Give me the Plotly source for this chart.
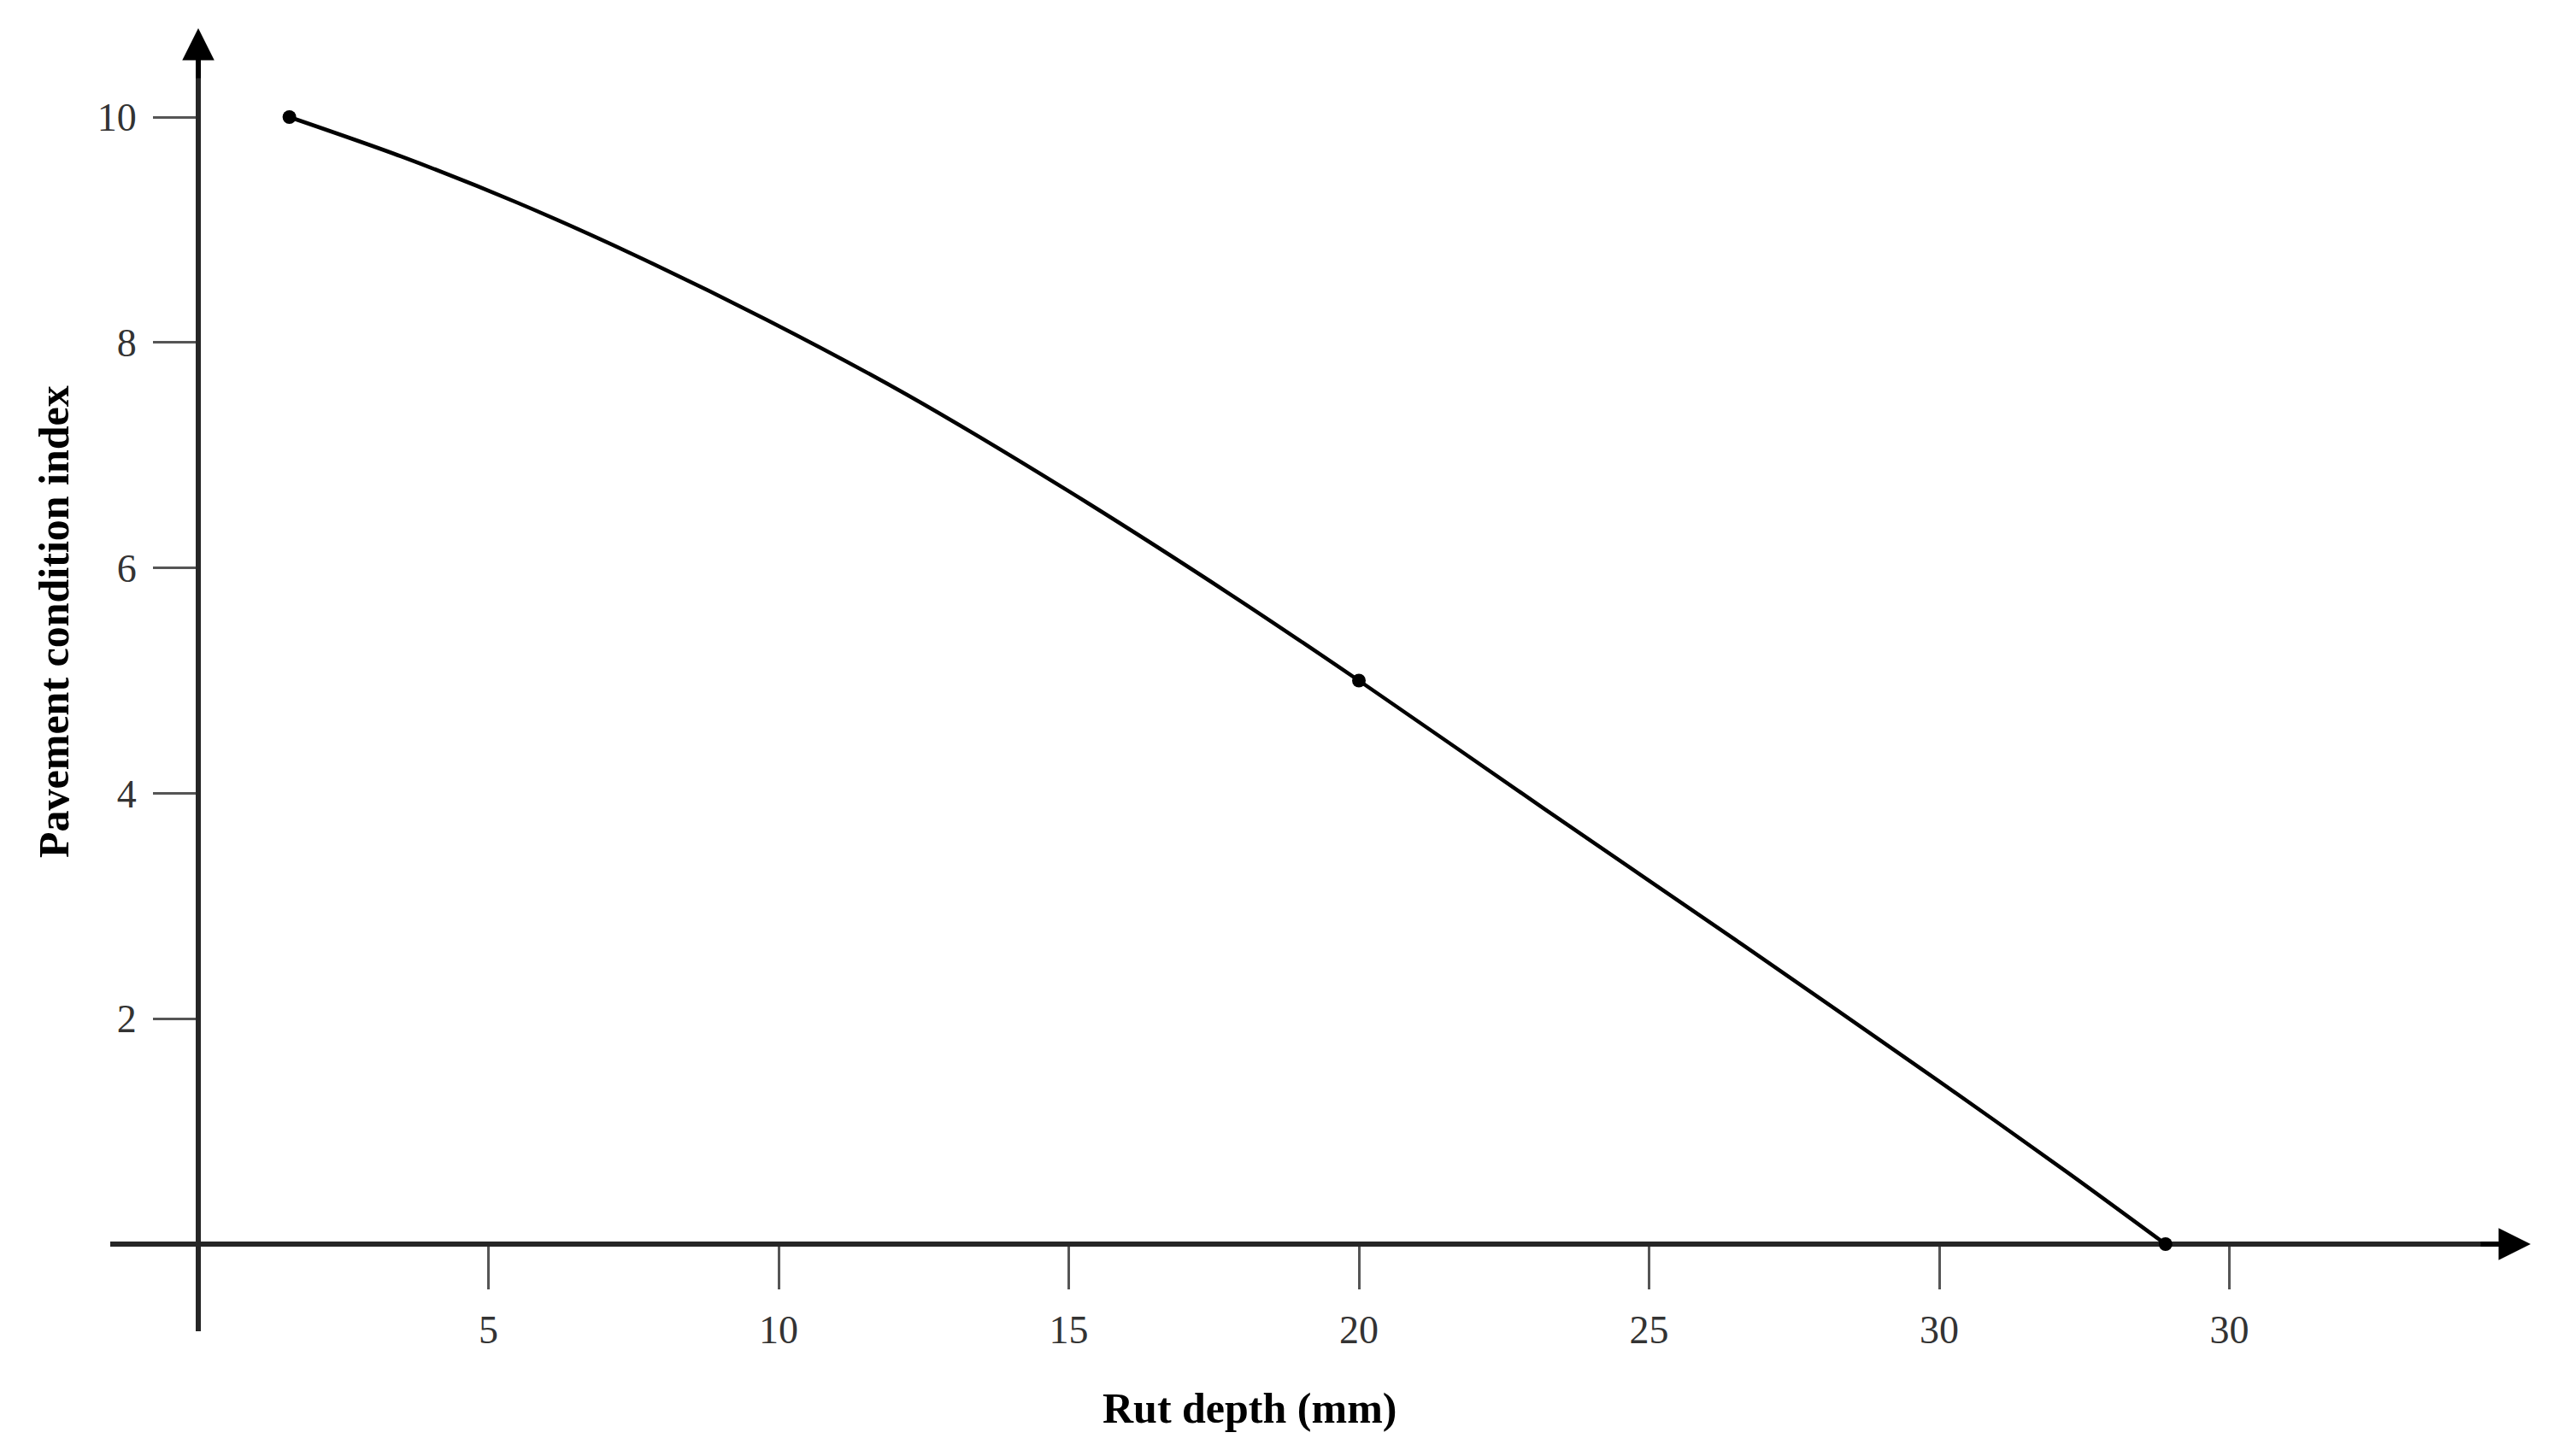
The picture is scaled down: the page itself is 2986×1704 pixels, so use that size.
import plotly.graph_objects as go

# ---- data ----
rut_depth_curve = [1.57, 3.5, 5.5, 7.5, 9.8, 12.2, 15.0, 17.8, 20.0, 23.2, 26.6, 29.9, 32.2, 33.9]
pci_curve = [10.0, 9.65, 9.24, 8.78, 8.2, 7.54, 6.68, 5.76, 5.0, 3.86, 2.66, 1.48, 0.64, 0.0]
rut_depth_points = [1.57, 20.0, 33.9]
pci_points = [10.0, 5.0, 0.0]

x_tickvals = [5, 10, 15, 20, 25, 30, 35]
x_ticktext = ["5", "10", "15", "20", "25", "30", "30"]
y_tickvals = [2, 4, 6, 8, 10]
y_ticktext = ["2", "4", "6", "8", "10"]

x_title = "Rut depth (mm)"
y_title = "Pavement condition index"

# ---- geometry ----
W, H = 2986, 1704
DX, DY = -8.0, -8.0
X0PX, XSCALE = 232.0 + DX, 67.9     # pixel of x=0, pixels per unit
Y0PX, YSCALE = 1456.0 + DY, 131.9   # pixel of y=0, pixels per unit

xdom_px = (129.0 + DX, 2945.0 + DX)
ydom_px = (50.0 + DY, 1558.0 + DY)  # top, bottom

def xdata(p):
    return (p - X0PX) / XSCALE

def ydata(p):
    return (Y0PX - p) / YSCALE

def px(p):
    return p / W

def py(p):
    return 1 - p / H

xrange_ = [xdata(xdom_px[0]), xdata(xdom_px[1])]
yrange_ = [ydata(ydom_px[1]), ydata(ydom_px[0])]
xdomain = [px(xdom_px[0]), px(xdom_px[1])]
ydomain = [py(ydom_px[1]), py(ydom_px[0])]

FONT = "Liberation Serif, Times New Roman, serif"

fig = go.Figure()
fig.add_trace(go.Scatter(
    x=rut_depth_curve, y=pci_curve, mode="lines",
    line=dict(color="black", width=4.5, shape="spline", smoothing=0.8),
    cliponaxis=False, showlegend=False, hoverinfo="skip"))
fig.add_trace(go.Scatter(
    x=rut_depth_points, y=pci_points, mode="markers",
    marker=dict(color="black", size=16),
    cliponaxis=False, showlegend=False))

axis_common = dict(showgrid=False, zeroline=False, showline=True,
                   linecolor="#262626", linewidth=6, ticks="outside",
                   tickcolor="#555555", tickwidth=3,
                   tickfont=dict(family=FONT, size=46, color="#333333"),
                   anchor="free", layer="below traces", fixedrange=True)

fig.update_layout(
    width=W, height=H,
    margin=dict(l=0, r=0, t=0, b=0),
    paper_bgcolor="white", plot_bgcolor="white",
    xaxis=dict(domain=xdomain, range=xrange_, tickvals=x_tickvals,
               ticktext=x_ticktext, ticklen=50, position=py(Y0PX),
               ticklabelstandoff=8, **axis_common),
    yaxis=dict(domain=ydomain, range=yrange_, tickvals=y_tickvals,
               ticktext=y_ticktext, ticklen=50, position=px(X0PX),
               ticklabelstandoff=10, **axis_common),
)

annotations = [
    # axis titles
    dict(text="<b>" + x_title + "</b>", x=px(1462 + DX), y=py(1648 + DY),
         xref="paper", yref="paper", showarrow=False,
         font=dict(family=FONT, size=50, color="black"),
         xanchor="center", yanchor="middle"),
    dict(text="<b>" + y_title + "</b>", x=px(63 + DX), y=py(728 + DY),
         xref="paper", yref="paper", showarrow=False, textangle=-90,
         font=dict(family=FONT, size=50, color="black"),
         xanchor="center", yanchor="middle"),
    # arrow heads at the axis ends
    dict(x=px(2961 + DX), y=py(Y0PX), xref="paper", yref="paper",
         ax=-60, ay=0, showarrow=True, arrowhead=2, arrowsize=1.25,
         arrowwidth=6, arrowcolor="black", text=""),
    dict(x=px(X0PX), y=py(33 + DY), xref="paper", yref="paper",
         ax=0, ay=60, showarrow=True, arrowhead=2, arrowsize=1.25,
         arrowwidth=6, arrowcolor="black", text=""),
]
fig.update_layout(annotations=annotations)

fig.write_html("out.html")
